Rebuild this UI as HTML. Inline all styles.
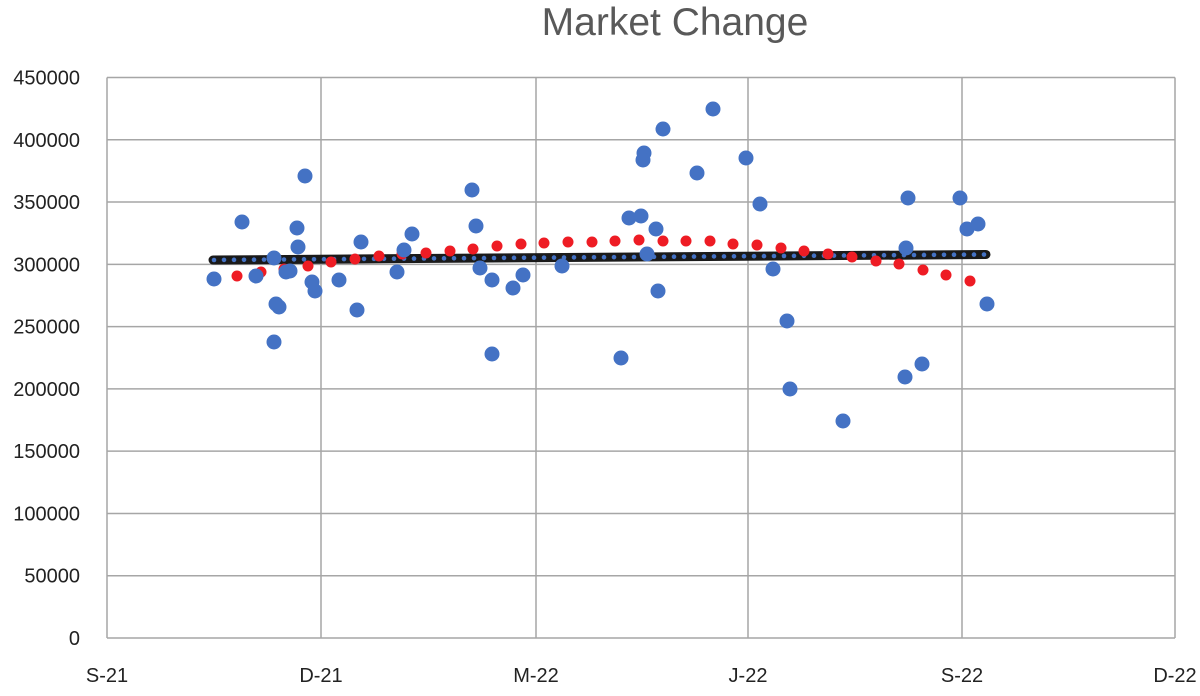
<!DOCTYPE html>
<html><head><meta charset="utf-8"><style>
html,body{margin:0;padding:0;background:#fff;}
svg{display:block;font-family:"Liberation Sans",Arial,sans-serif;}
</style></head><body>
<svg id="s" width="1200" height="696" viewBox="0 0 1200 696" xmlns="http://www.w3.org/2000/svg">
<rect width="1200" height="696" fill="#fff"/>
<text x="675" y="35" font-size="39" fill="#595959" text-anchor="middle">Market Change</text>
<g id="grid" stroke="#a6a6a6" stroke-width="1.5"></g>
<g id="lab" font-size="20" fill="#222"></g>
<g id="data"></g>
</svg>
<script>
var NS="http://www.w3.org/2000/svg";
function el(p,t,a,txt){var e=document.createElementNS(NS,t);for(var k in a)e.setAttribute(k,a[k]);if(txt!=null)e.textContent=txt;p.appendChild(e);return e;}
var g=document.getElementById('grid'),lab=document.getElementById('lab'),d=document.getElementById('data');
var L=107,R=1175,T=77.5,B=638;
for(var i=0;i<=9;i++){var y=T+i*(B-T)/9;el(g,'line',{x1:L,x2:R,y1:y,y2:y});
 el(lab,'text',{x:80,y:y+7,'text-anchor':'end'},String((9-i)*50000));}
var xs=[107,321,536,748,962,1175],xl=['S-21','D-21','M-22','J-22','S-22','D-22'];
for(var i=0;i<6;i++){el(g,'line',{x1:xs[i],x2:xs[i],y1:T,y2:B});
 el(lab,'text',{x:xs[i],y:682,'text-anchor':'middle'},xl[i]);}
var blue=[[214,279],[242,222],[256,276],[274,342],[276,304],[279,307],[274,258],[286,272],[290,271],[297,228],[298,247],[305,176],[312,282],[315,291],[339,280],[357,310],[361,242],[397,272],[404,250],[412,234],[472,190],[476,226],[480,268],[492,280],[492,354],[513,288],[523,275],[562,266],[621,358],[629,218],[641,216],[644,153],[643,160],[647,254],[656,229],[658,291],[663,129],[697,173],[713,109],[746,158],[760,204],[773,269],[787,321],[790,389],[843,421],[905,377],[906,248],[908,198],[922,364],[960,198],[967,229],[978,224],[987,304]];
var red=[[237,276],[261,272],[284,269],[308,266],[331,262],[355,259],[379,256],[402,254],[426,253],[450,251],[473,249],[497,246],[521,244],[544,243],[568,242],[592,242],[615,241],[639,240],[663,241],[686,241],[710,241],[733,244],[757,245],[781,248],[804,251],[828,254],[852,257],[876,261],[899,264],[923,270],[946,275],[970,281]];
el(d,'line',{x1:213,y1:260,x2:986,y2:254.5,stroke:'#1a1a1a','stroke-width':9,'stroke-linecap':'round'});
for(var x=214;x<=986;x+=10){var y=260-(x-213)*5.5/773;el(d,'circle',{cx:x,cy:y,r:2.3,fill:'#4472c4'});}
red.forEach(function(p){el(d,'circle',{cx:p[0],cy:p[1],r:5.5,fill:'#ee1c24'});});
blue.forEach(function(p){el(d,'circle',{cx:p[0],cy:p[1],r:7.5,fill:'#4472c4'});});
</script>
</body></html>
